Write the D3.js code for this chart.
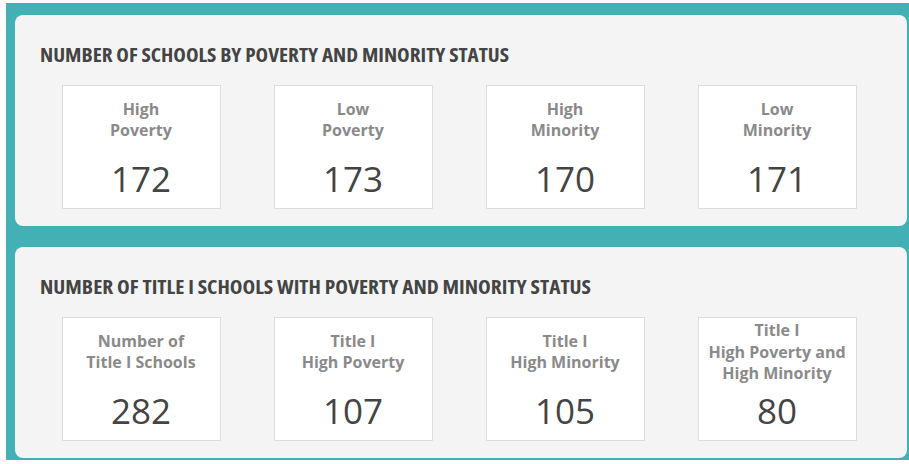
<!DOCTYPE html>
<html>
<head>
    <title>Schools by poverty and minority status</title>
    <script src="https://d3js.org/d3.v7.min.js"></script>
    <style>
        body { margin: 0; background: #fff; }
        svg { display: block; }
    </style>
</head>
<body>
    <svg id="chartdiv"></svg>
    <script>
        const width = 909;
        const height = 464;

        // data
        const sectionTitles = [
            "NUMBER OF SCHOOLS BY POVERTY AND MINORITY STATUS",
            "NUMBER OF TITLE I SCHOOLS WITH POVERTY AND MINORITY STATUS"
        ];
        const schoolLabels = [
            ["High", "Poverty"],
            ["Low", "Poverty"],
            ["High", "Minority"],
            ["Low", "Minority"]
        ];
        const schoolValues = [172, 173, 170, 171];
        const titleOneLabels = [
            ["Number of", "Title I Schools"],
            ["Title I", "High Poverty"],
            ["Title I", "High Minority"],
            ["Title I", "High Poverty and", "High Minority"]
        ];
        const titleOneValues = [282, 107, 105, 80];

        const sections = [
            { title: sectionTitles[0], labels: schoolLabels, values: schoolValues },
            { title: sectionTitles[1], labels: titleOneLabels, values: titleOneValues }
        ];

        const svg = d3.select("#chartdiv")
            .attr("width", width)
            .attr("height", height);

        // teal backdrop
        svg.append("rect")
            .attr("x", 6).attr("y", 3)
            .attr("width", width - 6).attr("height", 457)
            .attr("fill", "#42b1b5");

        // panel positions
        const panelY = d3.scaleOrdinal().domain([0, 1]).range([15, 247]);
        const panelH = 211;

        // card positions
        const x = d3.scaleBand()
            .domain(d3.range(4))
            .range([62, 856])
            .paddingInner(0.255);
        const cardTop = 70;   // relative to panel
        const cardH = 123;

        const panels = svg.selectAll(".panel")
            .data(sections)
            .enter().append("g")
            .attr("class", "panel")
            .attr("transform", (d, i) => `translate(0,${panelY(i)})`);

        panels.append("rect")
            .attr("x", 15)
            .attr("width", 907 - 15)
            .attr("height", panelH)
            .attr("rx", 8)
            .attr("fill", "#f4f4f4");

        panels.append("text")
            .attr("x", 40)
            .attr("y", 47)
            .style("font-family", "'Open Sans', sans-serif")
            .style("font-stretch", "condensed")
            .style("font-weight", "bold")
            .style("font-size", "19px")
            .style("fill", "#444")
            .attr("textLength", (d, i) => i === 0 ? 469 : 551)
            .attr("lengthAdjust", "spacingAndGlyphs")
            .text(d => d.title);

        const cards = panels.selectAll(".card")
            .data(d => d.values.map((v, i) => ({ value: v, label: d.labels[i], i: i })))
            .enter().append("g")
            .attr("class", "card")
            .attr("transform", d => `translate(${x(d.i)},${cardTop})`);

        cards.append("rect")
            .attr("x", 0.5).attr("y", 0.5)
            .attr("width", x.bandwidth())
            .attr("height", cardH)
            .attr("fill", "#fff")
            .attr("stroke", "#dcdcdc");

        // label lines, baselines centred around y=40.5 of the card
        const lineH = 21.8;
        cards.append("text")
            .attr("text-anchor", "middle")
            .style("font-family", "'Open Sans', sans-serif")
            .style("font-weight", "bold")
            .style("font-size", "16px")
            .style("fill", "#8a8a8a")
            .selectAll("tspan")
            .data(d => d.label.map((t, j) => ({ t: t, j: j, n: d.label.length })))
            .enter().append("tspan")
            .attr("x", x.bandwidth() / 2)
            .attr("y", d => 40.5 + (d.j - (d.n - 1) / 2) * lineH)
            .text(d => d.t);

        cards.append("text")
            .attr("x", x.bandwidth() / 2)
            .attr("y", 106.5)
            .attr("text-anchor", "middle")
            .style("font-family", "'Open Sans', sans-serif")
            .style("font-size", "35px")
            .style("fill", "#444")
            .text(d => d.value);
    </script>
</body>
</html>
